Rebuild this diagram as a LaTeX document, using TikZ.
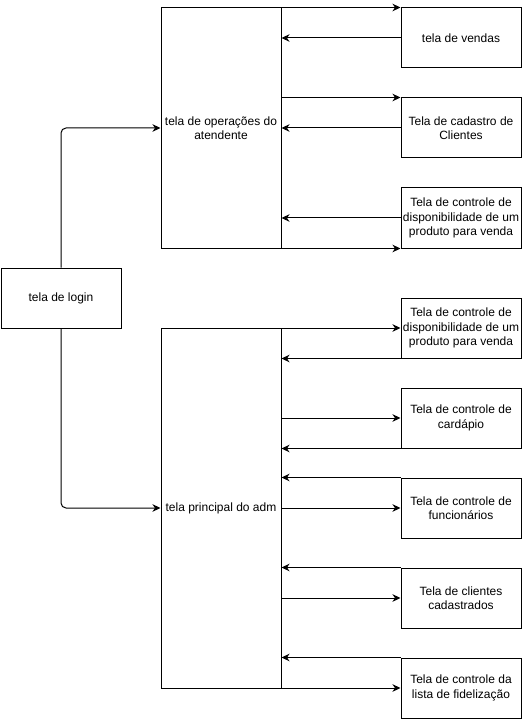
\documentclass[tikz,border=0pt]{standalone}
\usepackage{fontspec}
\setmainfont{Liberation Sans}
\usetikzlibrary{arrows.meta}
\tikzset{
  box/.style={draw, line width=1pt, minimum width=120pt, minimum height=60pt, inner sep=0pt,
    align=center, anchor=north west, font=\fontsize{12}{14.5}\selectfont},
  bigbox/.style={box, minimum height=#1},
  arr/.style={line width=1pt, -{Stealth[length=8pt,width=7.5pt,inset=2.5pt]}}
}
\begin{document}
\begin{tikzpicture}[x=1pt,y=-1pt]
\useasboundingbox (0,0) rectangle (522,719);
% main boxes
\node[box] (login) at (0.5,267.5) {tela de login};
\node[bigbox=240pt] (op) at (160.5,7.5) {tela de operações do\\atendente};
\node[bigbox=360pt] (adm) at (160.5,327.5) {tela principal do adm};
% right boxes, attendant
\node[box] (vendas) at (400.5,7.5) {tela de vendas};
\node[box] (cad) at (400.5,97.5) {Tela de cadastro de\\Clientes};
\node[box] (disp1) at (400.5,187.5) {Tela de controle de\\disponibilidade de um\\produto para venda};
% right boxes, admin
\node[box] (disp2) at (400.5,297.5) {Tela de controle de\\disponibilidade de um\\produto para venda};
\node[box] (card) at (400.5,387.5) {Tela de controle de\\cardápio};
\node[box] (func) at (400.5,477.5) {Tela de controle de\\funcionários};
\node[box] (cli) at (400.5,567.5) {Tela de clientes\\cadastrados};
\node[box] (fid) at (400.5,657.5) {Tela de controle da\\lista de fidelização};
% login connectors
\draw[arr, rounded corners=5pt] (login.north) |- (op.west);
\draw[arr, rounded corners=5pt] (login.south) |- (adm.west);
% attendant connectors
\draw[arr] (vendas.north west -| op.east) -- (vendas.north west);
\draw[arr] (vendas.west) -- (vendas.west -| op.east);
\draw[arr] (cad.north west -| op.east) -- (cad.north west);
\draw[arr] (cad.west) -- (cad.west -| op.east);
\draw[arr] (disp1.west) -- (disp1.west -| op.east);
\draw[arr] (disp1.south west -| op.east) -- (disp1.south west);
% admin connectors
\draw[arr] (disp2.west -| adm.east) -- (disp2.west);
\draw[arr] (disp2.south west) -- (disp2.south west -| adm.east);
\draw[arr] (card.west -| adm.east) -- (card.west);
\draw[arr] (card.south west) -- (card.south west -| adm.east);
\draw[arr] (func.north west) -- (func.north west -| adm.east);
\draw[arr] (func.west -| adm.east) -- (func.west);
\draw[arr] (cli.north west) -- (cli.north west -| adm.east);
\draw[arr] (cli.west -| adm.east) -- (cli.west);
\draw[arr] (fid.north west) -- (fid.north west -| adm.east);
\draw[arr] (fid.west -| adm.east) -- (fid.west);
\end{tikzpicture}
\end{document}
